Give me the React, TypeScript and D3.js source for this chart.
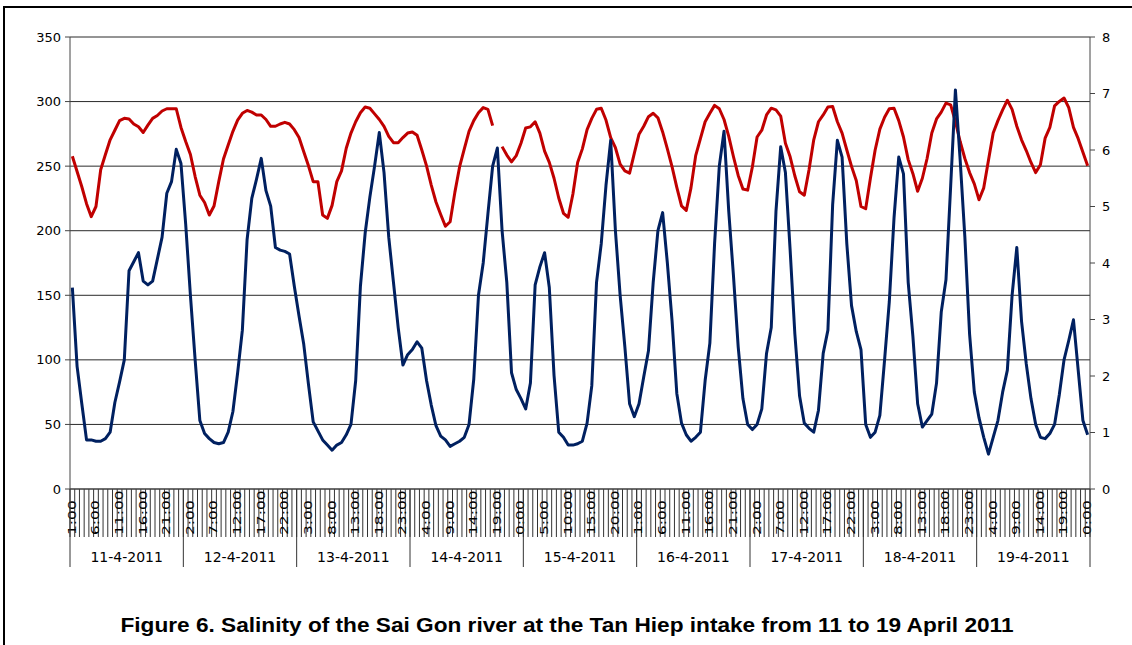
import React from "react";
import * as d3 from "d3";

const days = ["11-4-2011", "12-4-2011", "13-4-2011", "14-4-2011", "15-4-2011", "16-4-2011", "17-4-2011", "18-4-2011", "19-4-2011"];
const hours = ["1:00", "2:00", "3:00", "4:00", "5:00", "6:00", "7:00", "8:00", "9:00", "10:00", "11:00", "12:00", "13:00", "14:00", "15:00", "16:00", "17:00", "18:00", "19:00", "20:00", "21:00", "22:00", "23:00", "0:00"];
const leftTicks = [0, 50, 100, 150, 200, 250, 300, 350];
const rightTicks = [0, 1, 2, 3, 4, 5, 6, 7, 8];

// Blue series, left axis
const blueSeries = [
  156, 95, 66, 38, 38, 37, 37, 39, 44, 67, 83, 100, 169, 176, 183, 161, 158, 161, 178, 195, 229, 238, 263, 252,
  205, 150, 100, 53, 43, 39, 36, 35, 36, 44, 60, 90, 123, 193, 225, 240, 256, 231, 219, 187, 185, 184, 182, 157,
  134, 112, 81, 52, 45, 38, 34, 30, 34, 36, 42, 50, 84, 157, 198, 226, 250, 276, 245, 195, 160, 125, 96, 104,
  108, 114, 109, 84, 65, 49, 41, 38, 33, 35, 37, 40, 50, 85, 150, 175, 213, 250, 264, 200, 160, 90, 77, 70,
  62, 82, 158, 172, 183, 156, 88, 44, 40, 34, 34, 35, 37, 51, 80, 160, 190, 235, 270, 200, 150, 110, 66, 56,
  66, 87, 107, 160, 200, 214, 175, 130, 74, 51, 42, 37, 40, 44, 84, 113, 190, 250, 277, 215, 165, 110, 70, 50,
  46, 50, 62, 105, 125, 215, 265, 245, 185, 120, 72, 51, 47, 44, 61, 105, 123, 220, 270, 257, 190, 142, 122, 108,
  50, 40, 44, 57, 100, 145, 210, 257, 244, 160, 118, 66, 48, 53, 58, 82, 137, 162, 235, 309, 255, 195, 120, 75,
  55, 40, 27, 40, 53, 75, 92, 150, 187, 130, 97, 70, 50, 40, 39, 43, 50, 73, 100, 115, 131, 92, 53, 42,
];

// Red series, right axis
const redSeries: (number | null)[] = [
  5.89, 5.62, 5.35, 5.05, 4.82, 5.0, 5.65, 5.92, 6.18, 6.35, 6.52, 6.56, 6.55, 6.46, 6.41, 6.31, 6.44, 6.56, 6.61, 6.69, 6.73, 6.73, 6.73, 6.4,
  6.15, 5.92, 5.53, 5.2, 5.07, 4.85, 5.01, 5.44, 5.84, 6.09, 6.33, 6.53, 6.65, 6.7, 6.67, 6.62, 6.62, 6.54, 6.42, 6.42, 6.46, 6.49, 6.46, 6.36,
  6.22, 5.97, 5.72, 5.44, 5.44, 4.85, 4.79, 5.02, 5.44, 5.63, 6.03, 6.3, 6.5, 6.66, 6.76, 6.74, 6.64, 6.54, 6.42, 6.24, 6.13, 6.13, 6.22, 6.3,
  6.32, 6.26, 6.0, 5.72, 5.38, 5.08, 4.86, 4.65, 4.73, 5.25, 5.7, 6.02, 6.33, 6.52, 6.66, 6.75, 6.72, 6.43, null, 6.06, 5.91, 5.79, 5.9, 6.12,
  6.39, 6.41, 6.5, 6.3, 5.98, 5.78, 5.5, 5.15, 4.88, 4.81, 5.22, 5.78, 6.02, 6.36, 6.56, 6.72, 6.74, 6.53, 6.22, 6.04, 5.75, 5.63, 5.59, 5.94,
  6.28, 6.42, 6.59, 6.65, 6.57, 6.32, 6.02, 5.7, 5.34, 5.01, 4.93, 5.33, 5.9, 6.2, 6.5, 6.65, 6.79, 6.73, 6.54, 6.24, 5.88, 5.55, 5.31, 5.29,
  5.7, 6.23, 6.35, 6.62, 6.74, 6.71, 6.6, 6.12, 5.88, 5.54, 5.26, 5.2, 5.65, 6.18, 6.5, 6.62, 6.76, 6.77, 6.5, 6.3, 6.0, 5.71, 5.46, 5.0,
  4.96, 5.5, 6.0, 6.37, 6.58, 6.73, 6.74, 6.52, 6.23, 5.83, 5.58, 5.27, 5.5, 5.85, 6.3, 6.55, 6.67, 6.83, 6.8, 6.5, 6.15, 5.85, 5.6, 5.4,
  5.12, 5.33, 5.82, 6.3, 6.52, 6.71, 6.88, 6.72, 6.42, 6.18, 5.99, 5.78, 5.6, 5.74, 6.21, 6.4, 6.78, 6.86, 6.92, 6.75, 6.4, 6.2, 5.96, 5.72,
];

const caption = "Figure 6. Salinity of the Sai Gon river at the Tan Hiep intake from 11 to 19 April 2011";

const W = 1132;
const H = 645;
const plot = { left: 70, right: 1090, top: 37, bottom: 489 };

export default function App() {
  const categories = days.flatMap((d) => hours.map((h) => ({ day: d, hour: h })));
  const idx = categories.map((_, i) => i);
  const x = d3.scaleBand<number>().domain(idx).range([plot.left, plot.right]).paddingInner(0).paddingOuter(0);
  const bw = x.bandwidth();
  const cx = (i: number) => (x(i) as number) + bw / 2;
  const yL = d3.scaleLinear().domain([0, 350]).range([plot.bottom, plot.top]);
  const yR = d3.scaleLinear().domain([0, 8]).range([plot.bottom, plot.top]);

  const blueLine = d3
    .line<number>()
    .x((_, i) => cx(i))
    .y((d) => yL(d))(blueSeries) as string;
  const redLine = d3
    .line<number | null>()
    .defined((d) => d != null)
    .x((_, i) => cx(i))
    .y((d) => yR(d as number))(redSeries) as string;

  const font = "DejaVu Sans, Verdana, sans-serif";
  const dayW = bw * hours.length;

  return (
    <svg width={W} height={H} style={{ position: "absolute", left: 0, top: 0, background: "#fff" }}>
      <rect x={4} y={7} width={1200} height={700} fill="#fff" stroke="#000" strokeWidth={2} />
      {/* gridlines */}
      {leftTicks.map((t) => (
        <line key={"g" + t} x1={plot.left} x2={plot.right} y1={yL(t)} y2={yL(t)} stroke="#2a2a2a" strokeWidth={1} />
      ))}
      {/* axes */}
      <line x1={plot.left} x2={plot.left} y1={plot.top} y2={plot.bottom} stroke="#444" strokeWidth={1} />
      <line x1={plot.right} x2={plot.right} y1={plot.top} y2={plot.bottom} stroke="#444" strokeWidth={1} />
      {leftTicks.map((t) => (
        <g key={"lt" + t}>
          <line x1={plot.left - 5} x2={plot.left} y1={yL(t)} y2={yL(t)} stroke="#444" />
          <text x={plot.left - 9} y={yL(t)} textAnchor="end" dominantBaseline="central" fontFamily={font} fontSize={13} fill="#000">
            {t}
          </text>
        </g>
      ))}
      {rightTicks.map((t) => (
        <g key={"rt" + t}>
          <line x1={plot.right} x2={plot.right + 5} y1={yR(t)} y2={yR(t)} stroke="#444" />
          <text x={plot.right + 12} y={yR(t)} textAnchor="start" dominantBaseline="central" fontFamily={font} fontSize={13} fill="#000">
            {t}
          </text>
        </g>
      ))}
      {/* category ticks */}
      {idx.concat([idx.length]).map((i) => {
        const xx = i < idx.length ? (x(i) as number) : plot.right;
        return <line key={"ct" + i} x1={xx} x2={xx} y1={plot.bottom} y2={537} stroke="#333" strokeWidth={1} />;
      })}
      {categories.map((c, i) =>
        i % 5 === 0 ? (
          <text
            key={"cl" + i}
            transform={`translate(${cx(i)},535) rotate(-90) scale(1.55,1)`}
            textAnchor="start"
            dominantBaseline="central"
            fontFamily={font}
            fontSize={10}
            fill="#000"
          >
            {c.hour}
          </text>
        ) : null
      )}
      {/* day separators and labels */}
      {days.map((d, k) => (
        <line key={"ds" + k} x1={plot.left + k * dayW} x2={plot.left + k * dayW} y1={plot.bottom} y2={567} stroke="#333" strokeWidth={1} />
      ))}
      <line x1={plot.right} x2={plot.right} y1={plot.bottom} y2={567} stroke="#333" strokeWidth={1} />
      {days.map((d, k) => (
        <text key={"dl" + k} x={plot.left + k * dayW + dayW / 2} y={562} textAnchor="middle" fontFamily={font} fontSize={14} fill="#000">
          {d}
        </text>
      ))}
      <line x1={plot.left} x2={plot.right} y1={plot.bottom} y2={plot.bottom} stroke="#444" strokeWidth={1} />
      {/* series */}
      <path d={redLine} fill="none" stroke="#C00000" strokeWidth={3} strokeLinejoin="round" />
      <path d={blueLine} fill="none" stroke="#002060" strokeWidth={3} strokeLinejoin="round" />
      <text x={567} y={632} textAnchor="middle" fontFamily="Liberation Sans, Arial, sans-serif" fontWeight="bold" fontSize={21} textLength={893} lengthAdjust="spacingAndGlyphs" fill="#000">
        {caption}
      </text>
    </svg>
  );
}
